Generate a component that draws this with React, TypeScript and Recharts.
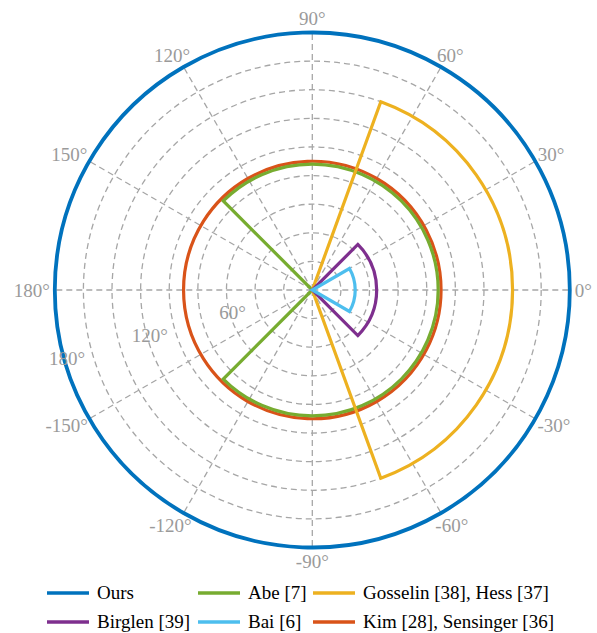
import {
  RadarChart,
  PolarGrid,
  PolarAngleAxis,
  PolarRadiusAxis,
  Pie,
  Cell,
  Legend,
} from "recharts";

const seriesNames = [
  "Ours",
  "Abe [7]",
  "Gosselin [38], Hess [37]",
  "Birglen [39]",
  "Bai [6]",
  "Kim [28], Sensinger [36]",
];
const seriesColors = ["#0072bd", "#77ac30", "#edb120", "#7e2f8e", "#4dbeee", "#d95319"];
// half of the angular range and the radial reach of each workspace, in degrees
const halfSpans = [180, 135, 70, 45, 30, 180];
const reaches = [180, 88, 140, 45, 30, 90];
// paint order: red ring sits under the green sector
const drawOrder = [0, 5, 1, 2, 3, 4];

// theta ticks, counter-clockwise from 3 o'clock
const angleTicks = [0, 30, 60, 90, 120, 150, 180, -150, -120, -90, -60, -30];
const radiusTicks = [0, 20, 40, 60, 80, 100, 120, 140, 160, 180];
const radiusLabels = [60, 120, 180];

const W = 597;
const H = 633;
const CX = 312.3;
const CY = 290;
const OUTER = 257.5;
const R_MAX = 180;
// category ticks on the angle axis land one band before their slot
const THETA_BAND = 360 / angleTicks.length;
const FONT = "Liberation Serif";
const FS = 19;
const GRAY = "#9a9a9a";

const rOf = (v: number) => (v / R_MAX) * OUTER;

const thetaRows = angleTicks.map((angle) => ({ angle }));

// rough Times advance widths, used to push labels clear of the circle
const textWidth = (s: string) =>
  s.split("").reduce((w, ch) => w + (ch === "°" ? 0.4 : ch === "-" ? 0.333 : 0.5), 0) * FS;

const AngleTick = (props: any) => {
  const { x, y, payload } = props;
  const v = payload.value as number;
  const a = (v * Math.PI) / 180;
  const label = `${v}°`;
  const w = textWidth(label);
  return (
    <text
      x={x + (Math.cos(a) * w) / 2}
      y={y - (Math.sin(a) * 18) / 2}
      dy="0.35em"
      textAnchor="middle"
      fill={GRAY}
      fontFamily={FONT}
      fontSize={FS}
    >
      {label}
    </text>
  );
};

const RadiusTick = (props: any) => {
  const { x, y, payload } = props;
  if (!radiusLabels.includes(payload.value)) return <g />;
  return (
    <text
      x={x + 2.9}
      y={y - 0.8}
      dy="0.35em"
      textAnchor="middle"
      fill={GRAY}
      fontFamily={FONT}
      fontSize={FS}
    >
      {`${payload.value}°`}
    </text>
  );
};

const colX = [47, 198, 313];

const LegendGrid = () => (
  <div style={{ position: "relative", width: W, height: 58, fontFamily: FONT, fontSize: FS, color: "#000" }}>
    {seriesNames.map((name, i) => (
      <div
        key={name}
        style={{
          position: "absolute",
          left: colX[i % 3],
          top: Math.floor(i / 3) * 28.5,
          height: 30,
          display: "flex",
          alignItems: "center",
          whiteSpace: "nowrap",
        }}
      >
        <svg width={42} height={6} style={{ display: "block" }}>
          <line x1={0} x2={42} y1={3} y2={3} stroke={seriesColors[i]} strokeWidth={3.5} />
        </svg>
        <span style={{ marginLeft: 8, lineHeight: "30px", fontFamily: FONT }}>{name}</span>
      </div>
    ))}
  </div>
);

export default function App() {
  return (
    <div style={{ position: "absolute", left: 0, top: 0, width: W, height: H, background: "#fff" }}>
      <RadarChart
        width={W}
        height={H}
        data={thetaRows}
        cx={CX}
        cy={CY}
        innerRadius={0}
        outerRadius={OUTER}
        startAngle={THETA_BAND}
        endAngle={360 + THETA_BAND}
        margin={{ top: 0, right: 0, bottom: 0, left: 0 }}
      >
        <PolarGrid
          angleAxisId="theta"
          gridType="circle"
          stroke="#a6a6a6"
          strokeWidth={1.3}
          strokeDasharray="6 4"
        />
        <PolarAngleAxis
          angleAxisId="theta"
          dataKey="angle"
          allowDuplicatedCategory={false}
          axisLine={false}
          tickLine={false}
          tickSize={5}
          tick={AngleTick}
        />
        <PolarRadiusAxis
          type="number"
          domain={[0, R_MAX]}
          ticks={radiusTicks}
          angle={195.5}
          axisLine={false}
          tickLine={false}
          tick={RadiusTick}
        />
        {drawOrder.map((i) => {
          const full = halfSpans[i] >= 180;
          const r = rOf(reaches[i]);
          const sw = i === 0 ? 3.8 : 3.2;
          return (
            <Pie
              key={seriesNames[i]}
              data={[{ name: seriesNames[i], value: 1 }]}
              dataKey="value"
              cx={CX}
              cy={CY}
              startAngle={full ? 0 : -halfSpans[i]}
              endAngle={full ? 360 : halfSpans[i]}
              innerRadius={full ? r : 0}
              outerRadius={r}
              fill="none"
              stroke={seriesColors[i]}
              strokeWidth={sw}
              legendType="none"
              isAnimationActive={false}
            >
              <Cell fill="none" stroke={seriesColors[i]} strokeWidth={sw} />
            </Pie>
          );
        })}
        <Legend
          verticalAlign="bottom"
          wrapperStyle={{ left: 0, top: 578, width: W, height: 58 }}
          content={() => <LegendGrid />}
        />
      </RadarChart>
    </div>
  );
}
